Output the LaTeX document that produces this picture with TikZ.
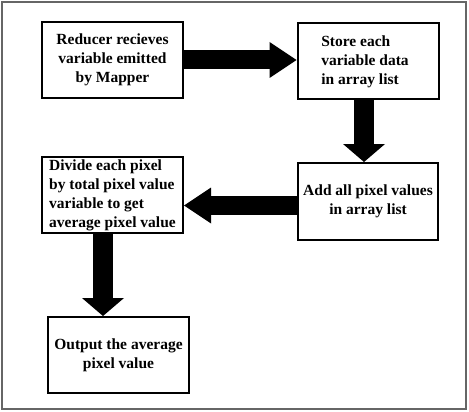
\documentclass[tikz,border=0pt]{standalone}
\usepackage{fontspec}
\setmainfont{Liberation Serif}
\usetikzlibrary{arrows.meta,calc}

\begin{document}
\begin{tikzpicture}[
    x=1pt, y=-1pt,
    box/.style={draw, line width=2pt, minimum width=141pt, minimum height=76pt, inner sep=4pt, align=center, font=\fontsize{15.5}{19}\selectfont\bfseries},
    blk/.style={line width=19pt, -{Triangle[length=27pt, width=36pt, line width=0pt]}},
    blkv/.style={line width=20pt, -{Triangle[length=18pt, width=42pt, line width=0pt]}}
]
\useasboundingbox (0,0) rectangle (469,412);
% Frame
\draw[line width=1.5pt, black!60] (2,2) rectangle (466,409);
% Reducer input
\node[box] (recv) at (112.5,60) {Reducer recieves\\variable emitted\\by Mapper};
% Store
\node[box, align=left] (store) at (368,61.5) {\hspace*{-6pt}Store each\\\hspace*{-6pt}variable data\\\hspace*{-6pt}in array list};
% Sum
\node[box, minimum width=140pt, minimum height=77pt] (sum) at (368,201.5) {Add all pixel values\\in array list};
% Divide
\node[box, align=left, inner sep=1pt] (divide) at (112.5,195) {Divide each pixel\\by total pixel value\\variable to get\\average pixel value};
% Output
\node[box] (out) at (118.5,355) {Output the average\\pixel value};

\draw[blk] (recv.east) -- (recv.east -| store.west);
\draw[blkv] ([xshift=-4pt]store.south) -- ([xshift=-4pt]store.south |- sum.north);
\draw[blk] ([yshift=-4pt]sum.west) -- ([yshift=-4pt]sum.west -| divide.east);
\draw[blkv] ([xshift=-9.5pt]divide.south) -- ([xshift=-9.5pt]divide.south |- out.north);
\end{tikzpicture}
\end{document}
